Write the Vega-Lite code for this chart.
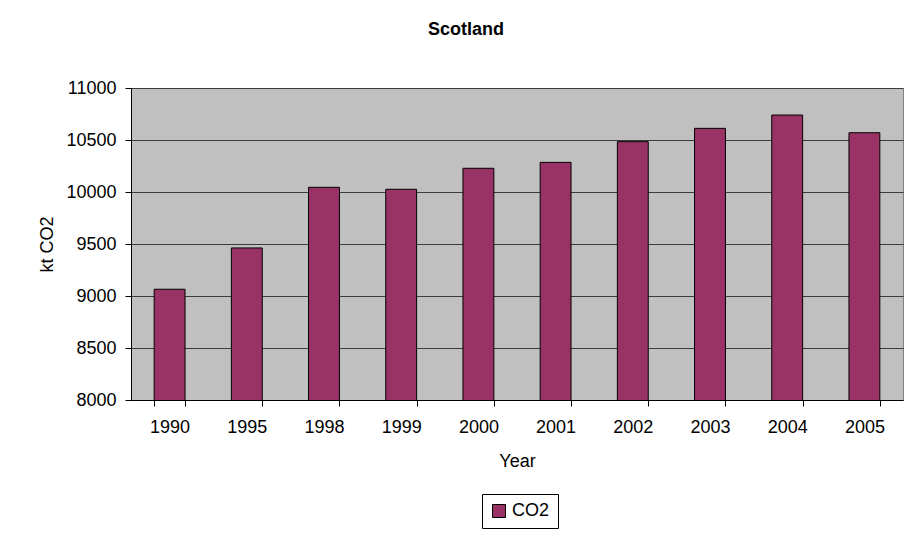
{
  "$schema": "https://vega.github.io/schema/vega-lite/v6.json",
  "autosize": "none",
  "width": 772,
  "height": 312,
  "padding": {"left": 131, "top": 88, "right": 13, "bottom": 134},
  "background": "white",
  "title": {
    "text": "Scotland",
    "font": "Liberation Sans",
    "fontSize": 18,
    "fontWeight": "bold",
    "color": "black",
    "anchor": "middle",
    "dx": -51,
    "offset": 40
  },
  "data": {
    "values": [
      {"year": "1990", "co2": 9065, "series": "CO2"},
      {"year": "1995", "co2": 9462, "series": "CO2"},
      {"year": "1998", "co2": 10045, "series": "CO2"},
      {"year": "1999", "co2": 10026, "series": "CO2"},
      {"year": "2000", "co2": 10228, "series": "CO2"},
      {"year": "2001", "co2": 10285, "series": "CO2"},
      {"year": "2002", "co2": 10484, "series": "CO2"},
      {"year": "2003", "co2": 10612, "series": "CO2"},
      {"year": "2004", "co2": 10740, "series": "CO2"},
      {"year": "2005", "co2": 10570, "series": "CO2"}
    ]
  },
  "mark": {"type": "bar", "stroke": "black", "strokeWidth": 1, "clip": true},
  "encoding": {
    "x": {
      "field": "year",
      "type": "ordinal",
      "title": "Year",
      "scale": {"paddingInner": 0.6, "paddingOuter": 0.3},
      "axis": {
        "labelAngle": 0,
        "tickBand": "extent",
        "tickSize": 6,
        "labelPadding": 12,
        "titlePadding": 16,
        "zindex": 1
      }
    },
    "y": {
      "field": "co2",
      "type": "quantitative",
      "title": "kt CO2",
      "scale": {"domain": [8000, 11000], "nice": false, "zero": false},
      "axis": {
        "values": [8000, 8500, 9000, 9500, 10000, 10500, 11000],
        "format": "d",
        "tickSize": 6,
        "labelPadding": 9,
        "titlePadding": 9,
        "grid": true,
        "gridColor": "#3c3c3c",
        "gridOpacity": 1,
        "gridWidth": 1
      }
    },
    "color": {
      "field": "series",
      "type": "nominal",
      "title": null,
      "scale": {"range": ["#993366"]},
      "legend": {
        "orient": "none",
        "legendX": 351,
        "legendY": 406,
        "symbolType": "square",
        "symbolSize": 169,
        "symbolStrokeColor": "black",
        "symbolStrokeWidth": 1,
        "symbolOpacity": 1,
        "labelOffset": 4,
        "padding": 8,
        "strokeColor": "black",
        "fillColor": "white"
      }
    }
  },
  "config": {
    "view": {"fill": "#C0C0C0", "stroke": "#808080", "strokeWidth": 1},
    "axis": {
      "labelFont": "Liberation Sans",
      "labelFontSize": 18,
      "labelColor": "black",
      "titleFont": "Liberation Sans",
      "titleFontSize": 18,
      "titleFontWeight": "normal",
      "titleColor": "black",
      "domainColor": "black",
      "tickColor": "black",
      "domainWidth": 1,
      "tickWidth": 1
    },
    "legend": {
      "labelFont": "Liberation Sans",
      "labelFontSize": 18,
      "labelColor": "black"
    }
  }
}
